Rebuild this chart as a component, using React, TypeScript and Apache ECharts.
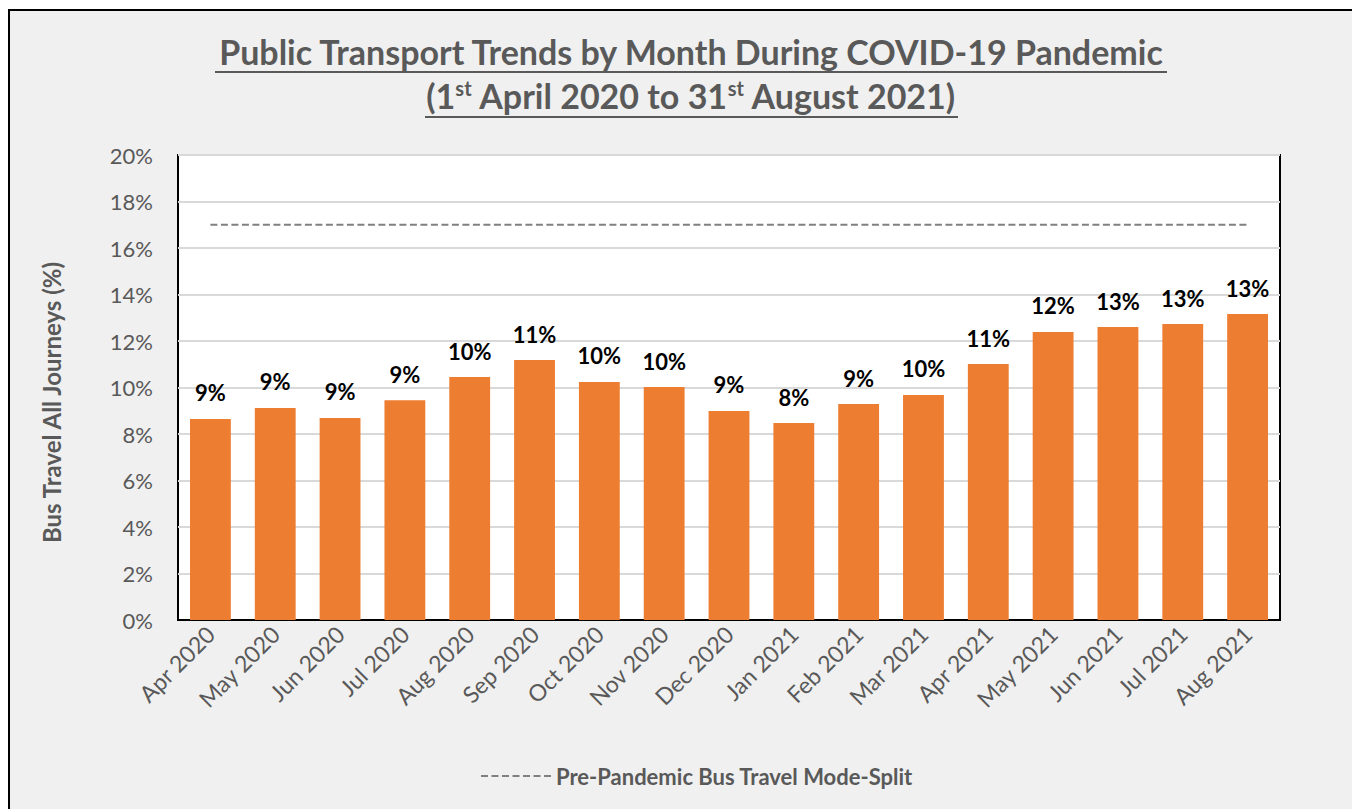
import React, { useEffect, useRef } from "react";
import * as echarts from "echarts";

const months = [
  "Apr 2020", "May 2020", "Jun 2020", "Jul 2020", "Aug 2020", "Sep 2020",
  "Oct 2020", "Nov 2020", "Dec 2020", "Jan 2021", "Feb 2021", "Mar 2021",
  "Apr 2021", "May 2021", "Jun 2021", "Jul 2021", "Aug 2021",
];
const busShare = [
  8.65, 9.12, 8.69, 9.45, 10.45, 11.18, 10.24, 10.02, 8.99, 8.47, 9.29, 9.68,
  11.01, 12.39, 12.6, 12.73, 13.16,
];
const prePandemic = [17, 17, 17, 17, 17, 17, 17, 17, 17, 17, 17, 17, 17, 17, 17, 17, 17];
const yTicks = [0, 2, 4, 6, 8, 10, 12, 14, 16, 18, 20];

const FONT = "Lato, 'Noto Sans', sans-serif";
const GREY = "#595959";
const DASH_ICON =
  "path://M0,0h7v2h-7z M10.5,0h7v2h-7z M21,0h7v2h-7z M31.5,0h7v2h-7z M42,0h7v2h-7z M52.5,0h7v2h-7z M63,0h7v2h-7z";

export default function App() {
  const ref = useRef<HTMLDivElement>(null);
  useEffect(() => {
    if (!ref.current) return;
    const chart = echarts.init(ref.current, null, { renderer: "svg" });
    chart.setOption({
      animation: false,
      backgroundColor: "#ffffff",
      textStyle: { fontFamily: FONT },
      graphic: [
        {
          type: "rect",
          z: -10,
          shape: { x: 9, y: 10, width: 1400, height: 900 },
          style: { fill: "#f0f0f0", stroke: "#000000", lineWidth: 2 },
          silent: true,
        },
        {
          type: "text",
          x: 691,
          y: 34,
          style: {
            text: "Public Transport Trends by Month During COVID-19 Pandemic",
            fontFamily: FONT,
            fontWeight: "bold",
            fontSize: 34,
            fill: GREY,
            textAlign: "center",
            textVerticalAlign: "top",
          },
        },
        {
          type: "text",
          x: 691,
          y: 78,
          style: {
            text: "(1{sup|st} April 2020 to 31{sup|st} August 2021)",
            fontFamily: FONT,
            fontWeight: "bold",
            fontSize: 34,
            fill: GREY,
            textAlign: "center",
            textVerticalAlign: "top",
            rich: {
              sup: {
                fontFamily: FONT,
                fontWeight: "bold",
                fontSize: 20,
                fill: GREY,
                verticalAlign: "top",
                padding: [0, 0, 12, 0],
              },
            },
          },
        },
        {
          type: "line",
          shape: { x1: 215, y1: 72, x2: 1167, y2: 72 },
          style: { stroke: GREY, lineWidth: 2 },
        },
        {
          type: "line",
          shape: { x1: 425, y1: 117, x2: 958, y2: 117 },
          style: { stroke: GREY, lineWidth: 2 },
        },
      ],
      grid: {
        left: 178,
        top: 155,
        right: 1352 - 1280,
        bottom: 809 - 620,
        show: true,
        backgroundColor: "#ffffff",
        borderColor: "#000000",
        borderWidth: 2,
        containLabel: false,
      },
      legend: {
        top: 760,
        left: 476,
        itemWidth: 70,
        itemHeight: 2,
        itemGap: 10,
        icon: DASH_ICON,
        data: [{ name: "Pre-Pandemic Bus Travel Mode-Split", icon: DASH_ICON }],
        itemStyle: { color: "#808080" },
        textStyle: { fontFamily: FONT, fontWeight: "bold", fontSize: 22, color: GREY },
      },
      xAxis: {
        type: "category",
        data: months,
        axisTick: { show: false },
        axisLine: { show: true, lineStyle: { color: "#000000", width: 2 } },
        axisLabel: {
          rotate: 45,
          fontFamily: FONT,
          fontSize: 23,
          color: GREY,
          margin: 10,
        },
      },
      yAxis: {
        type: "value",
        min: yTicks[0],
        max: yTicks[yTicks.length - 1],
        interval: 2,
        name: "Bus Travel All Journeys (%)",
        nameLocation: "middle",
        nameGap: 115,
        nameTextStyle: { fontFamily: FONT, fontWeight: "bold", fontSize: 24, color: GREY, padding: [0, 0, 0, -30] },
        axisLine: { show: false },
        axisTick: { show: false },
        axisLabel: {
          formatter: (v: number) => `${v}%`,
          fontFamily: FONT,
          fontSize: 22,
          color: GREY,
          margin: 25,
        },
        splitLine: { lineStyle: { color: "#d9d9d9", width: 2 } },
      },
      series: [
        {
          type: "bar",
          name: "Bus Travel",
          data: busShare,
          barCategoryGap: "37%",
          itemStyle: { color: "#ED7D31" },
          label: {
            show: true,
            position: "top",
            distance: 15,
            formatter: (p: any) => `${Math.round(p.value)}%`,
            fontFamily: FONT,
            fontWeight: "bold",
            fontSize: 22,
            color: "#000000",
          },
        },
        {
          type: "line",
          name: "Pre-Pandemic Bus Travel Mode-Split",
          data: prePandemic,
          symbol: "none",
          lineStyle: { color: "#808080", width: 2, type: [7, 3.5] },
          itemStyle: { color: "#808080" },
          z: 5,
        },
      ],
    });
    return () => chart.dispose();
  }, []);
  return (
    <div
      ref={ref}
      style={{ position: "fixed", left: 0, top: 0, width: 1352, height: 809 }}
    />
  );
}
